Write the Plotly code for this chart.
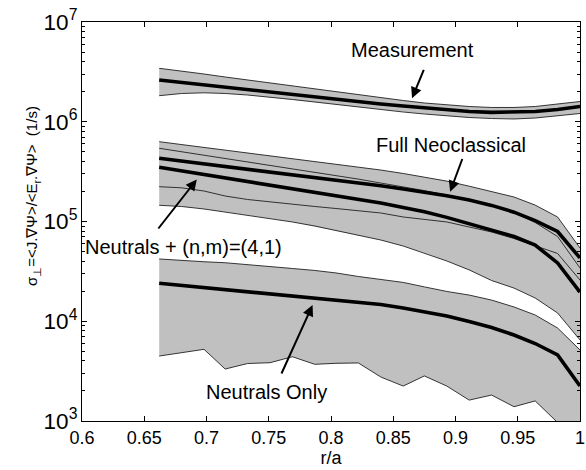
import plotly.graph_objects as go

r_a = [0.662, 0.680, 0.698, 0.715, 0.733, 0.751, 0.769, 0.787, 0.804, 0.822,
       0.840, 0.858, 0.875, 0.893, 0.911, 0.929, 0.947, 0.964, 0.982, 1.000]

x_ticks = [0.6, 0.65, 0.7, 0.75, 0.8, 0.85, 0.9, 0.95, 1.0]
x_tick_labels = ["0.6", "0.65", "0.7", "0.75", "0.8", "0.85", "0.9", "0.95", "1"]

meas_mid = [2.62e6, 2.475e6, 2.336e6, 2.205e6, 2.081e6, 1.965e6, 1.854e6, 1.759e6, 1.664e6, 1.578e6,
            1.507e6, 1.438e6, 1.373e6, 1.312e6, 1.267e6, 1.243e6, 1.243e6, 1.267e6, 1.327e6, 1.422e6]
meas_hi = [3.434e6, 3.227e6, 3.011e6, 2.809e6, 2.621e6, 2.446e6, 2.283e6, 2.130e6, 1.987e6, 1.854e6,
           1.730e6, 1.633e6, 1.542e6, 1.472e6, 1.422e6, 1.390e6, 1.390e6, 1.422e6, 1.507e6, 1.596e6]
meas_lo = [1.825e6, 1.920e6, 1.951e6, 1.920e6, 1.854e6, 1.771e6, 1.672e6, 1.578e6, 1.489e6, 1.406e6,
           1.327e6, 1.252e6, 1.196e6, 1.142e6, 1.103e6, 1.078e6, 1.066e6, 1.090e6, 1.142e6, 1.210e6]

neo_hi = [6.31e5, 5.91e5, 5.52e5, 5.15e5, 4.83e5, 4.54e5, 4.26e5, 4.00e5, 3.75e5, 3.52e5,
          3.28e5, 3.03e5, 2.79e5, 2.54e5, 2.26e5, 2.00e5, 1.76e5, 1.46e5, 1.11e5, 5.42e4]
neo_mid = [4.30e5, 4.04e5, 3.79e5, 3.56e5, 3.34e5, 3.13e5, 2.95e5, 2.77e5, 2.61e5, 2.45e5,
           2.28e5, 2.12e5, 1.97e5, 1.81e5, 1.64e5, 1.45e5, 1.24e5, 1.02e5, 7.94e4, 4.31e4]
neo_lo = [2.233e5, 2.177e5, 2.022e5, 1.801e5, 1.662e5, 1.569e5, 1.480e5, 1.414e5, 1.350e5, 1.289e5,
          1.217e5, 1.110e5, 1.047e5, 9.89e4, 8.81e4, 7.85e4, 6.75e4, 5.75e4, 4.78e4, 2.59e4]

n41_hi = [5.42e5, 5.01e5, 4.62e5, 4.27e5, 3.95e5, 3.64e5, 3.38e5, 3.12e5, 2.88e5, 2.66e5,
          2.43e5, 2.23e5, 2.04e5, 1.84e5, 1.66e5, 1.46e5, 1.23e5, 9.77e4, 7.07e4, 3.42e4]
n41_mid = [3.50e5, 3.22e5, 2.96e5, 2.73e5, 2.52e5, 2.32e5, 2.14e5, 1.98e5, 1.81e5, 1.67e5,
           1.53e5, 1.38e5, 1.25e5, 1.10e5, 9.55e4, 8.31e4, 7.07e4, 5.81e4, 3.84e4, 1.96e4]
n41_lo = [1.454e5, 1.414e5, 1.335e5, 1.245e5, 1.162e5, 1.072e5, 9.89e4, 9.01e4, 8.12e4, 7.24e4,
          6.52e4, 5.68e4, 4.83e4, 4.02e4, 3.27e4, 2.56e4, 2.15e4, 1.71e4, 1.21e4, 6.49e3]

no_hi = [4.21e4, 4.06e4, 3.95e4, 3.86e4, 3.71e4, 3.54e4, 3.38e4, 3.23e4, 3.05e4, 2.81e4,
         2.62e4, 2.45e4, 2.21e4, 1.99e4, 1.83e4, 1.63e4, 1.39e4, 1.155e4, 8.56e3, 5.15e3]
no_mid = [2.40e4, 2.28e4, 2.17e4, 2.08e4, 1.98e4, 1.89e4, 1.79e4, 1.71e4, 1.62e4, 1.55e4,
          1.47e4, 1.36e4, 1.24e4, 1.13e4, 9.94e3, 8.66e3, 7.28e3, 5.98e3, 4.59e3, 2.24e3]
no_lo = [4.48e3, 4.84e3, 5.23e3, 3.32e3, 3.77e3, 3.84e3, 4.41e3, 3.70e3, 3.79e3, 3.82e3,
         2.76e3, 2.24e3, 2.83e3, 2.24e3, 1.62e3, 1.82e3, 1.39e3, 1.59e3, 966, 645]

bands = [(meas_hi, meas_lo), (neo_hi, neo_lo), (n41_hi, n41_lo), (no_hi, no_lo)]
centers = [meas_mid, neo_mid, n41_mid, no_mid]

FONT = "Arial, Liberation Sans, sans-serif"
GRAY = "#c0c0c0"

fig = go.Figure()
for hi, lo in bands:
    fig.add_trace(go.Scatter(x=r_a + r_a[::-1], y=hi + lo[::-1], fill="toself",
                             fillcolor=GRAY, line=dict(width=0), mode="lines",
                             hoverinfo="skip", showlegend=False))
for hi, lo in bands:
    for edge in (hi, lo):
        fig.add_trace(go.Scatter(x=r_a, y=edge, mode="lines",
                                 line=dict(color="#202020", width=0.9),
                                 showlegend=False))
for c in centers:
    fig.add_trace(go.Scatter(x=r_a, y=c, mode="lines",
                             line=dict(color="black", width=3.6),
                             showlegend=False))

labels = [
    ("Measurement", 0.8656, 6.719, 0.875, 6.536, 0.8651, 6.235),
    ("Full Neoclassical", 0.8963, 5.767, 0.9059, 5.6416, 0.8957, 5.2987),
    ("Neutrals + (n,m)=(4,1)", 0.6812, 4.7474, 0.6604, 4.9148, 0.6922, 5.4211),
    ("Neutrals Only", 0.7483, 3.2937, 0.7597, 3.4612, 0.7852, 4.1629),
]
for txt, tx, ty, ax_, ay_, hx, hy in labels:
    fig.add_annotation(x=tx, y=ty, xref="x", yref="y", text=txt, showarrow=False,
                       font=dict(family=FONT, size=20, color="black"))
    fig.add_annotation(x=hx, y=hy, xref="x", yref="y", ax=ax_, ay=ay_,
                       axref="x", ayref="y", text="", showarrow=True,
                       arrowhead=2, arrowsize=1.1, arrowwidth=2, arrowcolor="black")

fig.add_annotation(xref="paper", yref="paper", x=-0.122, y=0.563, textangle=-90,
                   text="σ<sub>⊥</sub>=&lt;J.∇Ψ&gt;/&lt;E<sub>r</sub>.∇Ψ&gt;  (1/s)",
                   showarrow=False, font=dict(family=FONT, size=15, color="black"))

fig.update_xaxes(range=[0.6, 1.0], tickvals=x_ticks, ticktext=x_tick_labels,
                 ticks="inside", ticklen=5, ticklabeloverflow="allow",
                 showline=True, linecolor="black", linewidth=1, mirror="ticks",
                 showgrid=False, zeroline=False, tickcolor="black",
                 tickfont=dict(family=FONT, size=18, color="black"),
                 title=dict(text="r/a", font=dict(family=FONT, size=18, color="black"), standoff=4))
fig.update_yaxes(type="log", range=[3, 7], dtick=1, exponentformat="power", showexponent="all",
                 ticks="inside", ticklen=5, tickcolor="black",
                 minor=dict(ticks="inside", ticklen=3, tickcolor="black", showgrid=False),
                 showline=True, linecolor="black", linewidth=1, mirror="ticks",
                 showgrid=False, zeroline=False,
                 tickfont=dict(family=FONT, size=18, color="black"))
fig.update_layout(width=586, height=470, margin=dict(l=82, r=1, t=22, b=49),
                  plot_bgcolor="white", paper_bgcolor="white",
                  font=dict(family=FONT, color="black"))
fig.write_html("out.html", config={"displayModeBar": False},
               post_script="document.body.style.margin='0';document.body.style.overflow='hidden';")
